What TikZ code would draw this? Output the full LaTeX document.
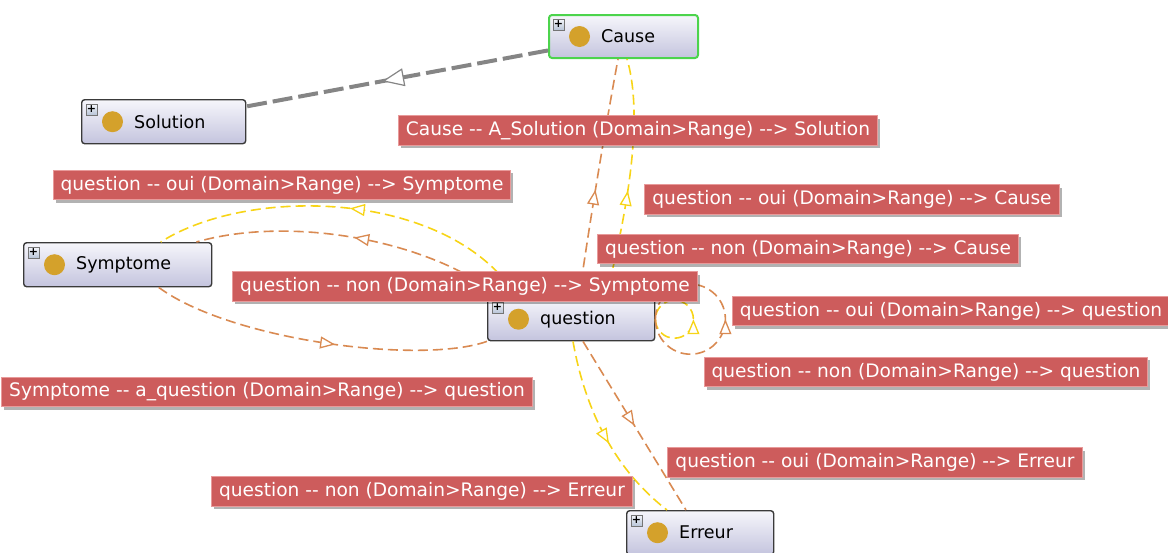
\documentclass[tikz,border=0pt]{standalone}
\usepackage{fontspec}
\newfontfamily\uifont{DejaVu Sans}
\usetikzlibrary{arrows.meta,decorations.markings,shadows}

\definecolor{edgeorange}{HTML}{D98A52}
\definecolor{edgeyellow}{HTML}{F7D417}
\definecolor{labelred}{HTML}{CD5C5C}
\definecolor{labelborder}{HTML}{E89A9A}
\definecolor{boxtop}{HTML}{F6F6FB}
\definecolor{boxbottom}{HTML}{C4C4DE}
\definecolor{boxborder}{HTML}{3A3A3A}
\definecolor{gold}{HTML}{D4A12B}
\definecolor{causegreen}{HTML}{4CD44C}
\definecolor{linkgray}{HTML}{858585}
\definecolor{icontop}{HTML}{F4F6FA}
\definecolor{iconbottom}{HTML}{B8C4D8}

% double hyphen without the TeX en-dash ligature
\newcommand\dd{-\kern0pt-}

\tikzset{
  classbox/.style={draw=boxborder, line width=1.4pt, rounded corners=3pt,
    top color=boxtop, bottom color=boxbottom, anchor=north west, inner sep=0pt},
  plusicon/.style={draw=boxborder!70, line width=0.6pt, top color=icontop, bottom color=iconbottom,
    minimum width=11pt, minimum height=11pt, inner sep=0pt,
    font=\uifont\fontsize{11}{11}\selectfont\bfseries},
  classname/.style={font=\uifont\fontsize{17.5}{20}\selectfont, anchor=west, inner sep=0pt},
  edgelabel/.style={fill=labelred, draw=labelborder, line width=1pt, text=white,
    font=\uifont\fontsize{18.6}{20}\selectfont, inner xsep=7.5pt, inner ysep=0pt,
    minimum height=29.5pt,
    drop shadow={shadow xshift=2.5pt, shadow yshift=-3pt, fill=black, opacity=0.3}},
  propedge/.style={dash pattern=on 10pt off 5pt, line width=1.6pt},
  ouiedge/.style={propedge, draw=edgeyellow},
  nonedge/.style={propedge, draw=edgeorange},
  midarrow/.style={postaction={decorate}, decoration={markings,
    mark=at position #1 with {\arrow{Triangle[fill=white, length=15pt, width=12pt, line width=1.3pt]}}}},
  linkedge/.style={draw=linkgray, line width=4pt, dash pattern=on 20pt off 6pt},
  linkarrow/.style={postaction={decorate}, decoration={markings,
    mark=at position #1 with {\arrow{Triangle[fill=white, length=22pt, width=18pt, line width=1.2pt]}}}},
}

\begin{document}
\begin{tikzpicture}[x=1pt, y=-1pt]
\useasboundingbox (0,0) rectangle (1168,552);

% class boxes (frames only, contents added later)
\node[classbox, draw=causegreen, line width=2pt, minimum width=149pt, minimum height=43pt] (cause) at (548,14) {};
\node[classbox, minimum width=164pt, minimum height=44pt] (solution) at (81,99) {};
\node[classbox, minimum width=188pt, minimum height=44pt] (symptome) at (23,242) {};
\node[classbox, minimum width=167pt, minimum height=43pt] (question) at (487,297) {};
\node[classbox, minimum width=147pt, minimum height=44pt] (erreur) at (626,510) {};

% Cause -- A_Solution --> Solution
\draw[linkedge, linkarrow=0.55] (cause) -- (solution);

% question --> Symptome
\draw[ouiedge, midarrow=0.5] ([xshift=30pt]question.north west)
  .. controls (450,190) and (250,185) .. ([xshift=43pt]symptome.north);
\draw[nonedge, midarrow=0.5] ([xshift=13pt]question.north west)
  .. controls (430,240) and (290,215) .. ([xshift=-16pt]symptome.north east);

% Symptome --> question
\draw[nonedge, midarrow=0.55] ([xshift=41pt]symptome.south)
  .. controls (230,340) and (420,365) .. (question.south west);

% question --> Cause
\draw[ouiedge, midarrow=0.45] ([xshift=119pt]question.north west)
  .. controls (625,220) and (645,120) .. ([xshift=79pt]cause.south west);
\draw[nonedge, midarrow=0.45] ([xshift=92pt]question.north west)
  .. controls (590,220) and (605,130) .. ([xshift=70pt]cause.south west);

% question --> question
\draw[ouiedge, midarrow=0.5] (question.east) arc[start angle=180, end angle=-180, radius=19];
\draw[nonedge, midarrow=0.5] (question.east) arc[start angle=180, end angle=-180, radius=35];

% question --> Erreur
\draw[nonedge, midarrow=0.5] ([xshift=96pt]question.south west) -- ([xshift=60pt]erreur.north west);
\draw[ouiedge, midarrow=0.55] ([xshift=86pt]question.south west)
  .. controls (585,410) and (615,470) .. ([xshift=41pt]erreur.north west);

% box contents: expand icon, class bullet, name
\foreach \c/\t in {cause/Cause, solution/Solution, symptome/Symptome, question/question, erreur/Erreur}{
  \node[plusicon] (\c-icon) at ([xshift=10.5pt, yshift=-10.5pt]\c.north west) {+};
  \fill[gold] ([xshift=31.5pt]\c.west) circle[radius=10.5pt];
  \node[classname] (\c-name) at ([xshift=53pt]\c.west) {\t};
}

% property labels
\node[edgelabel] (l-sol)  at (638,130.5) {Cause \dd\ A\_Solution (Domain>Range) \dd> Solution};
\node[edgelabel] (l-osym) at (282,185)   {question \dd\ oui (Domain>Range) \dd> Symptome};
\node[edgelabel] (l-ocau) at (852,199.5) {question \dd\ oui (Domain>Range) \dd> Cause};
\node[edgelabel] (l-ncau) at (808,249)   {question \dd\ non (Domain>Range) \dd> Cause};
\node[edgelabel] (l-nsym) at (465,286.5) {question \dd\ non (Domain>Range) \dd> Symptome};
\node[edgelabel] (l-oque) at (951,311)   {question \dd\ oui (Domain>Range) \dd> question};
\node[edgelabel] (l-nque) at (926,372)   {question \dd\ non (Domain>Range) \dd> question};
\node[edgelabel] (l-aque) at (267,392)   {Symptome \dd\ a\_question (Domain>Range) \dd> question};
\node[edgelabel] (l-oerr) at (875,462.5) {question \dd\ oui (Domain>Range) \dd> Erreur};
\node[edgelabel] (l-nerr) at (422,491.5) {question \dd\ non (Domain>Range) \dd> Erreur};
\end{tikzpicture}
\end{document}
